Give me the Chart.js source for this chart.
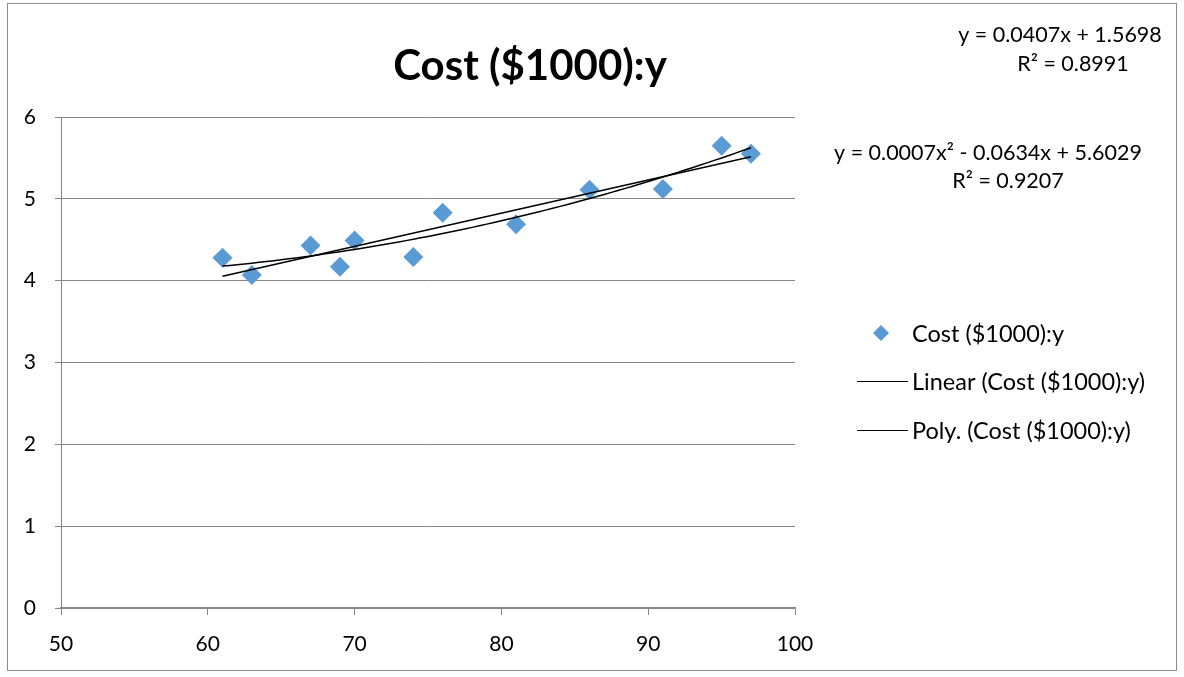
<!DOCTYPE html>
<html>
<head>
<meta charset="utf-8">
<script src="https://cdn.jsdelivr.net/npm/chart.js@4.4.1/dist/chart.umd.min.js"></script>
<style>
  html, body { margin: 0; padding: 0; background: #fff; }
  #chart { display: block; }
</style>
</head>
<body>
<canvas id="chart" width="1184" height="677"></canvas>
<script>
// x and y values
const xValues = [61, 63, 67, 69, 70, 74, 76, 81, 86, 91, 95, 97];
const costValues = [4.28, 4.07, 4.43, 4.17, 4.49, 4.29, 4.83, 4.69, 5.11, 5.12, 5.65, 5.55];
const xRange = [50, 100];
const yRange = [0, 6];
const titleText = 'Cost ($1000):y';
const legendLabels = ['Cost ($1000):y', 'Linear (Cost ($1000):y)', 'Poly. (Cost ($1000):y)'];
const linearEquation = ['y = 0.0407x + 1.5698', 'R² = 0.8991'];
const polyEquation = ['y = 0.0007x² - 0.0634x + 5.6029', 'R² = 0.9207'];

const FONT = 'Lato, "Open Sans", sans-serif';
const BLUE = '#5B9BD5';

// least squares polynomial fit, like excel trendlines
function polyFit(xs, ys, degree) {
    const n = degree + 1;
    const m = [];
    for (let i = 0; i < n; i++) {
        m.push([]);
        for (let j = 0; j < n; j++) {
            m[i].push(xs.reduce((s, x) => s + Math.pow(x, i + j), 0));
        }
        m[i].push(xs.reduce((s, x, k) => s + ys[k] * Math.pow(x, i), 0));
    }
    for (let i = 0; i < n; i++) {
        for (let k = i + 1; k < n; k++) {
            const f = m[k][i] / m[i][i];
            for (let j = i; j <= n; j++) m[k][j] -= f * m[i][j];
        }
    }
    const c = new Array(n).fill(0);
    for (let i = n - 1; i >= 0; i--) {
        let s = m[i][n];
        for (let j = i + 1; j < n; j++) s -= m[i][j] * c[j];
        c[i] = s / m[i][i];
    }
    return c;
}

function evalPoly(c, x) {
    return c.reduce((s, a, i) => s + a * Math.pow(x, i), 0);
}

const linCoef = polyFit(xValues, costValues, 1);
const quadCoef = polyFit(xValues, costValues, 2);
const xMin = Math.min(...xValues);
const xMax = Math.max(...xValues);
const linearLine = [xMin, xMax].map(x => ({ x: x, y: evalPoly(linCoef, x) }));
const polyLine = [];
for (let x = xMin; x <= xMax; x += 0.5) {
    polyLine.push({ x: x, y: evalPoly(quadCoef, x) });
}

const decor = {
    id: 'decor',
    afterDraw(chart) {
        const ctx = chart.ctx;
        ctx.save();
        // outer frame
        ctx.strokeStyle = '#8c8c8c';
        ctx.lineWidth = 1;
        ctx.strokeRect(7.5, 3.5, 1169, 667);

        ctx.fillStyle = '#000';
        ctx.textAlign = 'center';
        ctx.textBaseline = 'alphabetic';
        ctx.font = 'bold 42px ' + FONT;
        ctx.fillText(titleText, 530, 80);

        ctx.textBaseline = 'middle';
        ctx.font = '21.5px ' + FONT;
        ctx.fillText(linearEquation[0], 1060, 35);
        ctx.fillText(linearEquation[1], 1073, 64);
        ctx.fillText(polyEquation[0], 988, 153);
        ctx.fillText(polyEquation[1], 1008, 181);

        // legend
        ctx.textAlign = 'left';
        ctx.font = '23.5px ' + FONT;
        ctx.fillStyle = BLUE;
        ctx.beginPath();
        ctx.moveTo(881, 325);
        ctx.lineTo(889, 333);
        ctx.lineTo(881, 341);
        ctx.lineTo(873, 333);
        ctx.closePath();
        ctx.fill();
        ctx.fillStyle = '#000';
        ctx.fillText(legendLabels[0], 912, 334);
        ctx.strokeStyle = '#000';
        ctx.lineWidth = 1.2;
        [381, 430].forEach((y, i) => {
            ctx.beginPath();
            ctx.moveTo(857, y + 0.5);
            ctx.lineTo(908, y + 0.5);
            ctx.stroke();
            ctx.fillText(legendLabels[i + 1], 912, y + 1);
        });
        ctx.restore();
    }
};

new Chart(document.getElementById('chart'), {
    type: 'scatter',
    data: {
        datasets: [{
            label: legendLabels[0],
            data: xValues.map((x, i) => ({ x: x, y: costValues[i] })),
            pointStyle: 'rectRot',
            pointRadius: 10,
            pointBackgroundColor: BLUE,
            pointBorderColor: BLUE,
            pointBorderWidth: 0,
            order: 2
        }, {
            label: legendLabels[1],
            type: 'line',
            data: linearLine,
            borderColor: '#000',
            borderWidth: 1.5,
            pointRadius: 0,
            fill: false,
            order: 1
        }, {
            label: legendLabels[2],
            type: 'line',
            data: polyLine,
            borderColor: '#000',
            borderWidth: 1.5,
            pointRadius: 0,
            tension: 0,
            fill: false,
            order: 1
        }]
    },
    options: {
        responsive: false,
        animation: false,
        layout: { padding: { left: 0, top: 117, right: 389, bottom: 0 } },
        plugins: {
            legend: { display: false },
            title: { display: false },
            tooltip: { enabled: false }
        },
        scales: {
            x: {
                type: 'linear',
                min: xRange[0],
                max: xRange[1],
                afterFit(scale) { scale.height = 69; },
                ticks: { stepSize: 10, color: '#000', padding: 17, font: { family: FONT, size: 21 } },
                grid: { drawOnChartArea: false, drawTicks: true, tickLength: 7, color: '#868686' },
                border: { color: '#868686', width: 1.5 }
            },
            y: {
                min: yRange[0],
                max: yRange[1],
                afterFit(scale) { scale.width = 61; },
                ticks: { stepSize: 1, color: '#000', padding: 19, font: { family: FONT, size: 21 } },
                grid: { color: '#868686', tickLength: 6 },
                border: { color: '#868686', width: 1 }
            }
        }
    },
    plugins: [decor]
});
</script>
</body>
</html>
